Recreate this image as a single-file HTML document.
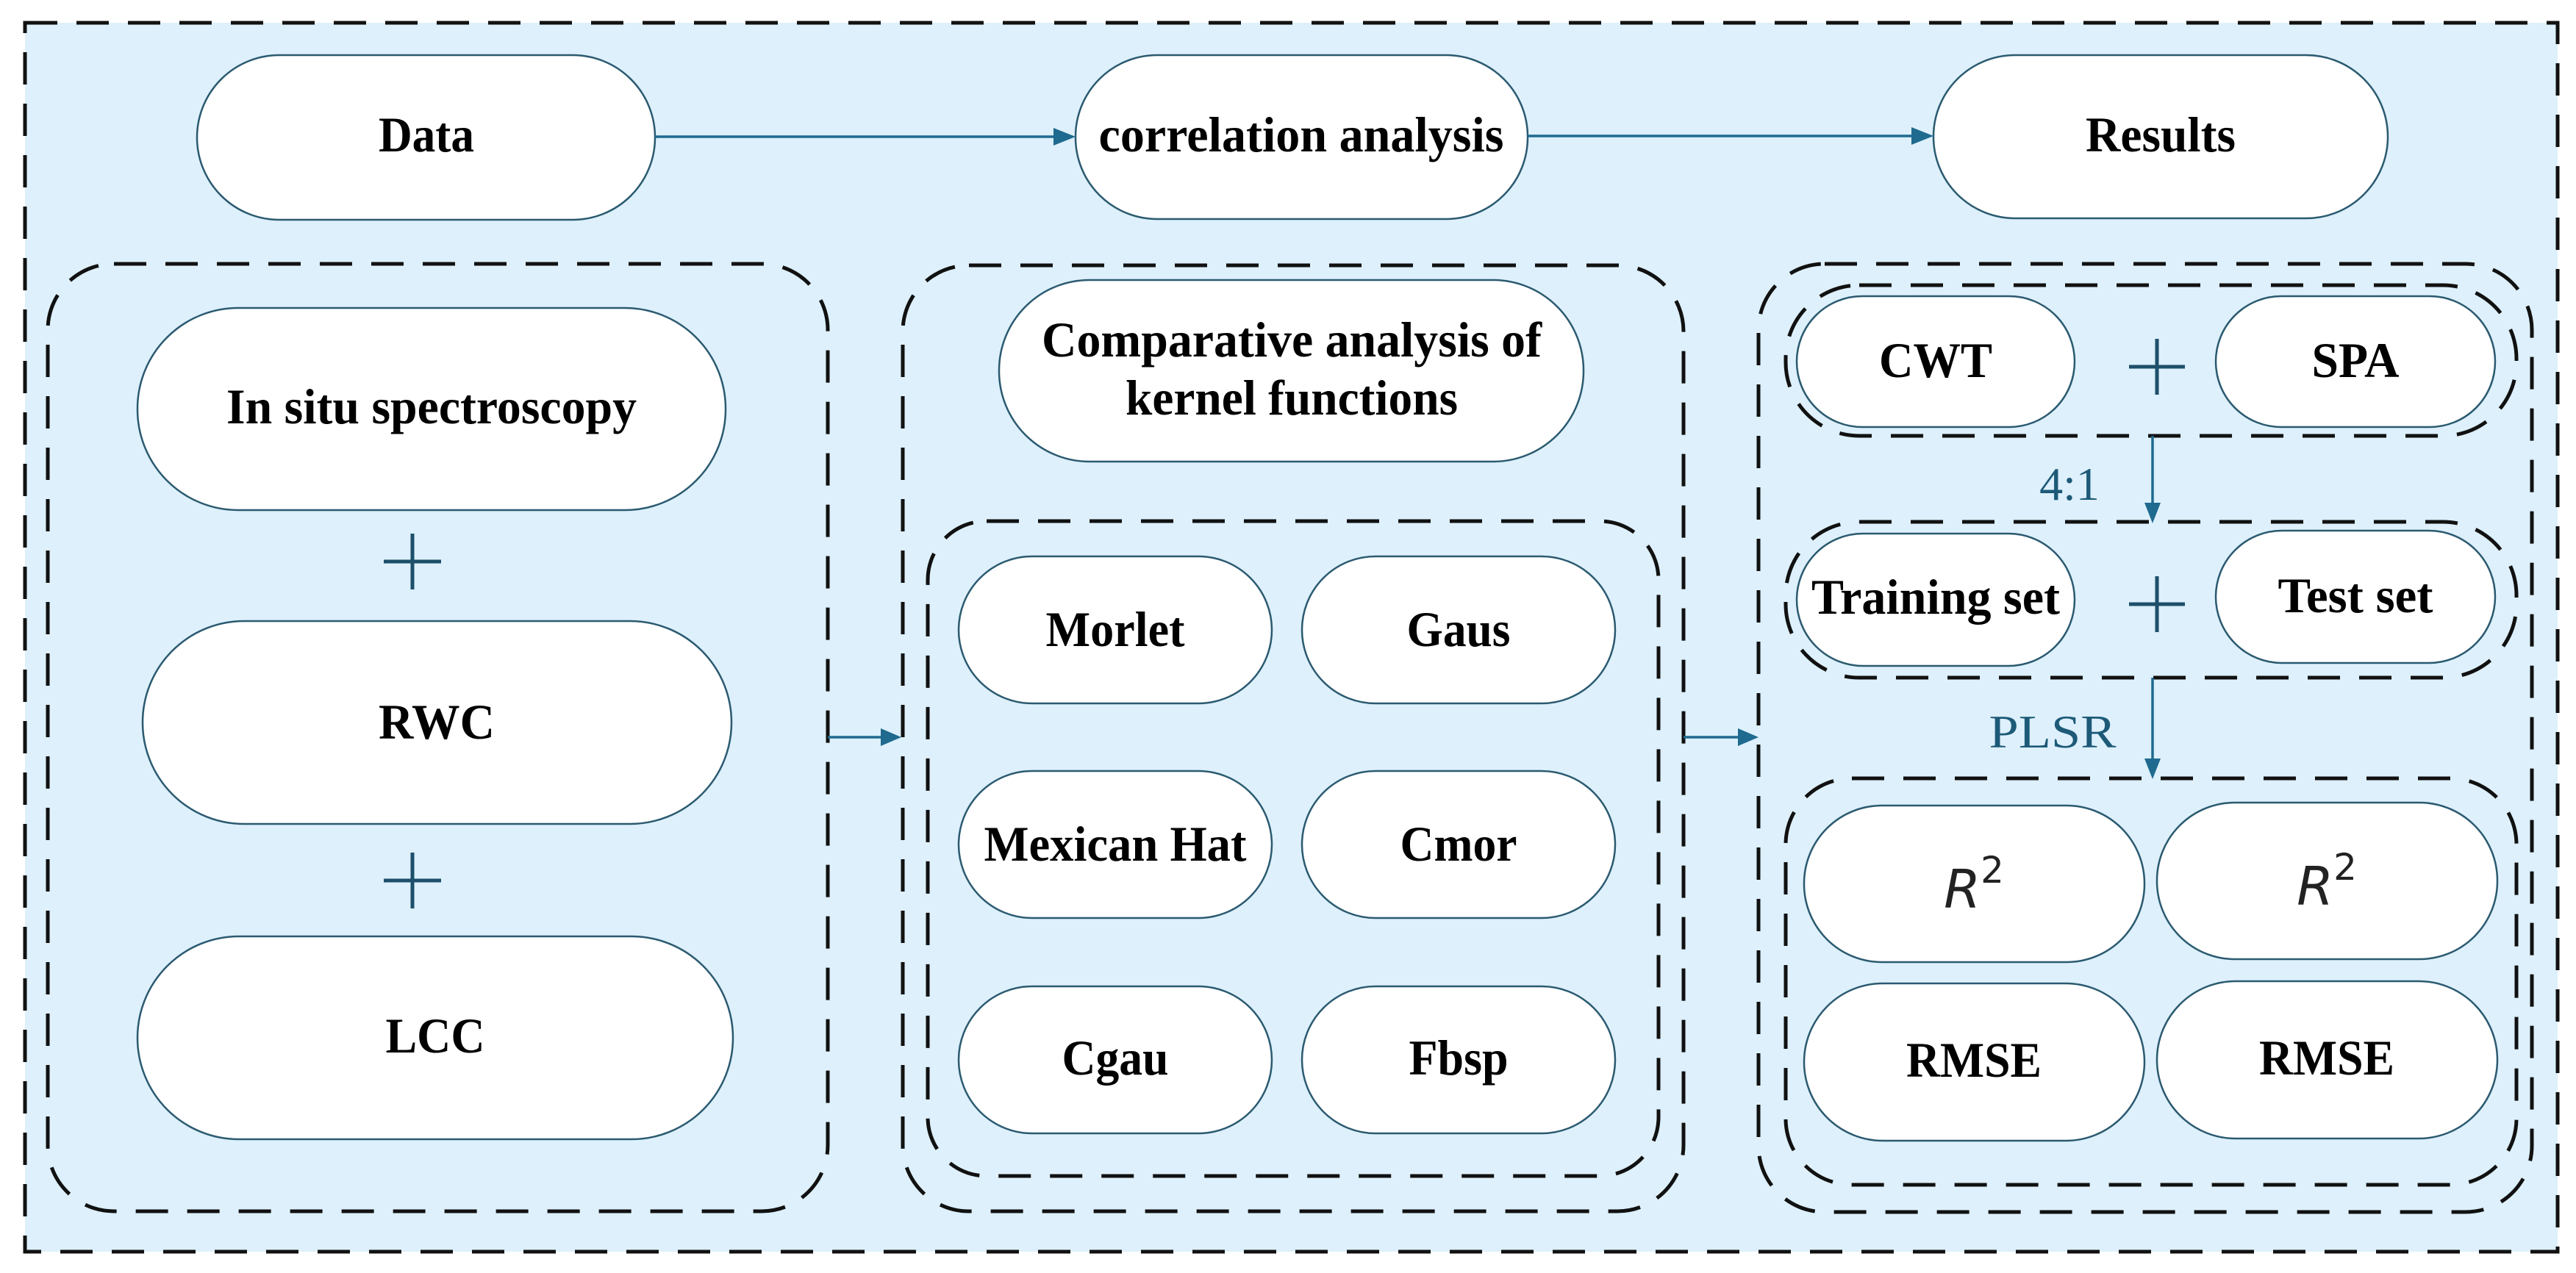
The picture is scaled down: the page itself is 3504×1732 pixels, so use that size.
<!DOCTYPE html>
<html><head><meta charset="utf-8"><style>
html,body{margin:0;padding:0;background:#fff;}
svg{display:block;}
.n{fill:#fff;stroke:#2b5a70;stroke-width:2.5;}
.g{fill:none;stroke:#111;stroke-width:5;stroke-dasharray:44 26;}
.t{font-family:"Liberation Serif",serif;font-weight:bold;font-size:68px;fill:#000;text-anchor:middle;}
.c{stroke:#1f6a8f;stroke-width:3.5;fill:none;}
.p{stroke:#1d4f6a;stroke-width:5;}
.lb{font-family:"Liberation Serif",serif;font-size:64px;fill:#1d5a78;text-anchor:middle;}
.r{font-family:"DejaVu Sans",sans-serif;font-style:italic;font-size:72px;fill:#222;text-anchor:middle;}
.a{fill:#1f6a8f;}
</style></head><body>
<svg width="3504" height="1732" viewBox="0 0 3504 1732" xmlns="http://www.w3.org/2000/svg">
<rect x="34" y="31" width="3445" height="1672" fill="#ddf0fb" stroke="#111" stroke-width="5" stroke-dasharray="44 26"/>

<!-- top row -->
<rect class="n" x="268" y="75" width="623" height="224" rx="112"/>
<text class="t" x="580" y="206" textLength="130" lengthAdjust="spacingAndGlyphs">Data</text>
<rect class="n" x="1463" y="75" width="615" height="223" rx="111"/>
<text class="t" x="1770" y="206" textLength="551" lengthAdjust="spacingAndGlyphs">correlation analysis</text>
<rect class="n" x="2630" y="75" width="618" height="222" rx="111"/>
<text class="t" x="2939" y="206" textLength="204" lengthAdjust="spacingAndGlyphs">Results</text>
<line class="c" x1="891" y1="186" x2="1435" y2="186"/>
<polygon class="a" points="1463,186 1433,174 1433,198"/>
<line class="c" x1="2078" y1="185" x2="2602" y2="185"/>
<polygon class="a" points="2630,185 2600,173 2600,197"/>

<!-- left group -->
<rect class="g" x="65" y="359" width="1061" height="1289" rx="90"/>
<rect class="n" x="187" y="419" width="800" height="275" rx="137"/>
<text class="t" x="587" y="576" textLength="558" lengthAdjust="spacingAndGlyphs">In situ spectroscopy</text>
<line class="p" x1="522" y1="764" x2="600" y2="764"/><line class="p" x1="561" y1="726" x2="561" y2="802"/>
<rect class="n" x="194" y="845" width="801" height="276" rx="138"/>
<text class="t" x="594" y="1005" textLength="158" lengthAdjust="spacingAndGlyphs">RWC</text>
<line class="p" x1="522" y1="1198" x2="600" y2="1198"/><line class="p" x1="561" y1="1160" x2="561" y2="1236"/>
<rect class="n" x="187" y="1274" width="810" height="276" rx="138"/>
<text class="t" x="592" y="1432" textLength="135" lengthAdjust="spacingAndGlyphs">LCC</text>

<line class="c" x1="1126" y1="1003" x2="1200" y2="1003"/>
<polygon class="a" points="1226,1003 1198,991 1198,1015"/>

<!-- middle group -->
<rect class="g" x="1228" y="361" width="1062" height="1287" rx="90"/>
<rect class="n" x="1359" y="381" width="795" height="247" rx="123"/>
<text class="t" x="1757" y="485" textLength="680" lengthAdjust="spacingAndGlyphs">Comparative analysis of</text>
<text class="t" x="1757" y="564" textLength="452" lengthAdjust="spacingAndGlyphs">kernel functions</text>
<rect class="g" x="1262" y="709" width="994" height="891" rx="80"/>
<rect class="n" x="1304" y="757" width="426" height="200" rx="100"/>
<text class="t" x="1517" y="879" textLength="189" lengthAdjust="spacingAndGlyphs">Morlet</text>
<rect class="n" x="1771" y="757" width="426" height="200" rx="100"/>
<text class="t" x="1984" y="879" textLength="141" lengthAdjust="spacingAndGlyphs">Gaus</text>
<rect class="n" x="1304" y="1049" width="426" height="200" rx="100"/>
<text class="t" x="1517" y="1171" textLength="357" lengthAdjust="spacingAndGlyphs">Mexican Hat</text>
<rect class="n" x="1771" y="1049" width="426" height="200" rx="100"/>
<text class="t" x="1984" y="1171" textLength="159" lengthAdjust="spacingAndGlyphs">Cmor</text>
<rect class="n" x="1304" y="1342" width="426" height="200" rx="100"/>
<text class="t" x="1517" y="1462" textLength="145" lengthAdjust="spacingAndGlyphs">Cgau</text>
<rect class="n" x="1771" y="1342" width="426" height="200" rx="100"/>
<text class="t" x="1984" y="1462" textLength="135" lengthAdjust="spacingAndGlyphs">Fbsp</text>

<line class="c" x1="2290" y1="1003" x2="2366" y2="1003"/>
<polygon class="a" points="2392,1003 2364,991 2364,1015"/>

<!-- right group -->
<rect class="g" x="2392" y="359" width="1052" height="1290" rx="90"/>
<rect class="g" x="2429" y="388" width="994" height="205" rx="100"/>
<rect class="n" x="2444" y="403" width="378" height="178" rx="89"/>
<text class="t" x="2633" y="513" textLength="154" lengthAdjust="spacingAndGlyphs">CWT</text>
<line class="p" x1="2896" y1="499" x2="2972" y2="499"/><line class="p" x1="2934" y1="461" x2="2934" y2="537"/>
<rect class="n" x="3014" y="403" width="380" height="178" rx="89"/>
<text class="t" x="3204" y="513" textLength="119" lengthAdjust="spacingAndGlyphs">SPA</text>

<line class="c" x1="2928" y1="593" x2="2928" y2="688"/>
<polygon class="a" points="2928,712 2917,684 2939,684"/>
<text class="lb" x="2815" y="680">4:1</text>

<rect class="g" x="2429" y="710" width="994" height="212" rx="100"/>
<rect class="n" x="2444" y="726" width="378" height="180" rx="90"/>
<text class="t" x="2633" y="835" textLength="338" lengthAdjust="spacingAndGlyphs">Training set</text>
<line class="p" x1="2896" y1="822" x2="2972" y2="822"/><line class="p" x1="2934" y1="784" x2="2934" y2="860"/>
<rect class="n" x="3014" y="722" width="380" height="180" rx="90"/>
<text class="t" x="3204" y="833" textLength="211" lengthAdjust="spacingAndGlyphs">Test set</text>

<line class="c" x1="2928" y1="922" x2="2928" y2="1036"/>
<polygon class="a" points="2928,1060 2917,1032 2939,1032"/>
<text class="lb" x="2792" y="1017" textLength="173" lengthAdjust="spacingAndGlyphs">PLSR</text>

<rect class="g" x="2429" y="1059" width="994" height="553" rx="90"/>
<rect class="n" x="2454" y="1096" width="463" height="213" rx="106"/>
<text class="r" x="2685" y="1235">R<tspan font-style="normal" font-size="50" dy="-34">2</tspan></text>
<rect class="n" x="2934" y="1092" width="463" height="213" rx="106"/>
<text class="r" x="3165" y="1231">R<tspan font-style="normal" font-size="50" dy="-34">2</tspan></text>
<rect class="n" x="2454" y="1338" width="463" height="214" rx="107"/>
<text class="t" x="2685" y="1465" textLength="184" lengthAdjust="spacingAndGlyphs">RMSE</text>
<rect class="n" x="2934" y="1335" width="463" height="214" rx="107"/>
<text class="t" x="3165" y="1462" textLength="184" lengthAdjust="spacingAndGlyphs">RMSE</text>
</svg>
</body></html>
